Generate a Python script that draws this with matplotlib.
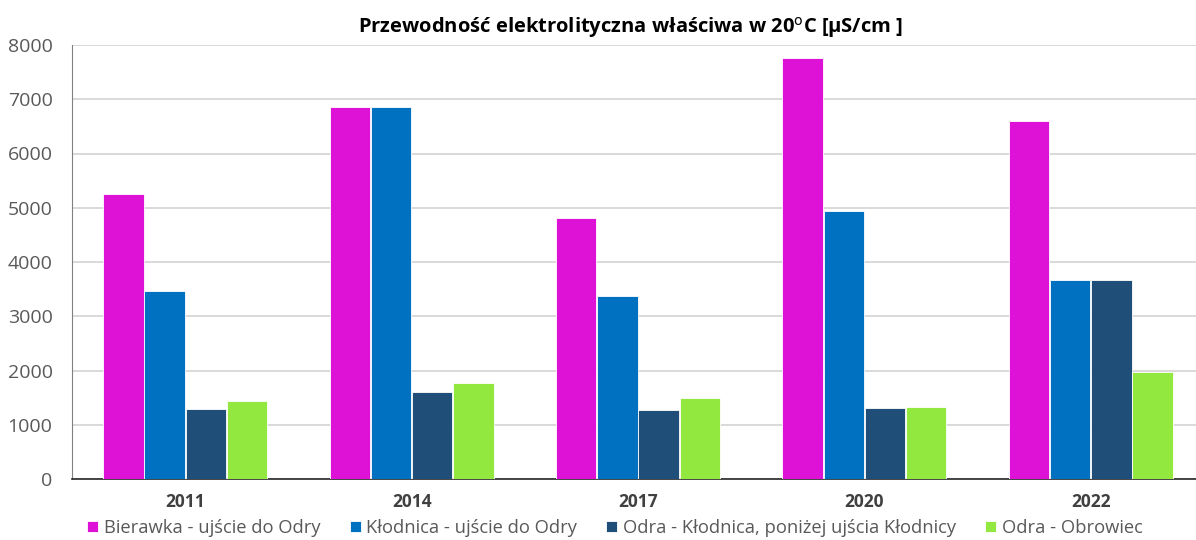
import numpy as np
import matplotlib.pyplot as plt

plt.rcParams['font.family'] = ['Open Sans', 'DejaVu Sans']

years = ['2011', '2014', '2017', '2020', '2022']
series = ['Bierawka - ujście do Odry', 'Kłodnica - ujście do Odry',
          'Odra - Kłodnica, poniżej ujścia Kłodnicy', 'Odra - Obrowiec']
bierawka = [5260, 6860, 4810, 7760, 6590]
klodnica = [3470, 6860, 3380, 4940, 3660]
odra_kl = [1290, 1600, 1270, 1310, 3660]
odra_obr = [1430, 1770, 1500, 1330, 1970]
values = [bierawka, klodnica, odra_kl, odra_obr]
colors = ['#DE12D6', '#0070C0', '#1F4E79', '#92E83E']

fig = plt.figure(figsize=(11.96, 5.4), dpi=100)
ax = fig.add_axes([72 / 1196, 1 - 479 / 540, 1132 / 1196, 434 / 540])

x = np.arange(len(years))
w = 0.178
step = 0.182
for i, (vals, c, name) in enumerate(zip(values, colors, series)):
    ax.bar(x + (i - 1.5) * step, vals, width=w, color=c, label=name,
           edgecolor='white', linewidth=0.6, zorder=3)

ax.set_xlim(-0.5, 4.5)
ax.set_ylim(0, 8000)
ax.set_yticks(range(0, 8001, 1000))
ax.set_xticks(x)
ax.set_xticklabels(years, fontweight='bold', color='#404040', fontsize=12.5)
ax.tick_params(axis='y', length=0, labelsize=14, labelcolor='#595959', pad=14)
ax.tick_params(axis='x', length=0, pad=10)
ax.grid(axis='y', color='#D9D9D9', linewidth=1.4, zorder=0)
for s in ['top', 'right']:
    ax.spines[s].set_visible(False)
ax.spines['left'].set_color('#808080')
ax.spines['bottom'].set_color('#262626')
ax.spines['bottom'].set_linewidth(1.2)

fig.text(630 / 1196, 1 - 28 / 540, 'Przewodność elektrolityczna właściwa w 20$^{\\mathrm{o}}$C [µS/cm ]',
         ha='center', va='center', fontweight='bold', fontsize=14.5, color='black')

fig.legend(loc='center', bbox_to_anchor=(615 / 1196, 1 - 528 / 540), ncol=4,
           frameon=False, fontsize=13.2, handlelength=0.6, handleheight=0.6,
           handletextpad=0.3, columnspacing=1.6, labelcolor='#595959')

fig.savefig('out.png', dpi=100)
